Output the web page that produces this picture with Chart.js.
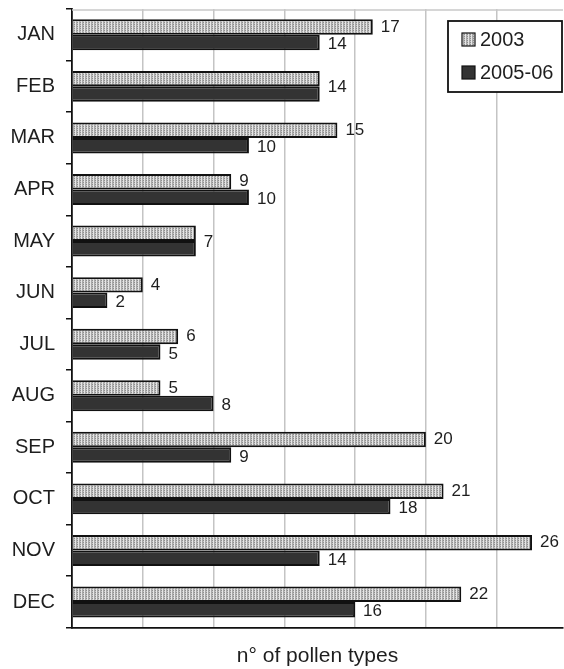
<!DOCTYPE html>
<html>
<head>
<meta charset="utf-8">
<script src="https://cdn.jsdelivr.net/npm/chart.js@4"></script>
<style>
  html, body { margin: 0; padding: 0; background: #fff; }
  #wrap { width: 564px; height: 669px; }
</style>
</head>
<body>
<div id="wrap"><canvas id="chart" width="564" height="669"></canvas></div>
<script>
var months = ["JAN", "FEB", "MAR", "APR", "MAY", "JUN", "JUL", "AUG", "SEP", "OCT", "NOV", "DEC"];
var seriesNames = ["2003", "2005-06"];
var values2003 = [17, 14, 15, 9, 7, 4, 6, 5, 20, 21, 26, 22];
var values2005 = [14, 14, 10, 10, 7, 2, 5, 8, 9, 18, 14, 16];
var axisTitle = "n\u00b0 of pollen types";

var FONT = "'Liberation Sans', Arial, sans-serif";

// dotted light fill for the 2003 bars
function dottedFill() {
    var c = document.createElement("canvas");
    c.width = 3; c.height = 2;
    var g = c.getContext("2d");
    g.fillStyle = "#e6e6e6"; g.fillRect(0, 0, 3, 2);
    g.fillStyle = "#a8a8a8"; g.fillRect(1, 0, 1, 2);
    g.fillStyle = "#8e8e8e"; g.fillRect(2, 0, 1, 1);
    g.fillStyle = "#c6c6c6"; g.fillRect(2, 1, 1, 1);
    return document.getElementById("chart").getContext("2d").createPattern(c, "repeat");
}

var fill2003 = dottedFill();
var fill2005 = "#333333";

// value labels at bar ends; one shared label when both bars are equal
var barLabels = {
    id: "barLabels",
    afterDatasetsDraw: function(chart) {
        var ctx = chart.ctx;
        var m0 = chart.getDatasetMeta(0), m1 = chart.getDatasetMeta(1);
        var d0 = chart.data.datasets[0].data, d1 = chart.data.datasets[1].data;
        ctx.save();
        ctx.font = "17px " + FONT;
        ctx.fillStyle = "#1e1e1e";
        ctx.textBaseline = "middle";
        ctx.textAlign = "left";
        for (var i = 0; i < d0.length; i++) {
            var b0 = m0.data[i], b1 = m1.data[i];
            if (d0[i] === d1[i]) {
                ctx.fillText(String(d0[i]), b0.x + 8, (b0.y + b1.y) / 2 + 1);
            } else {
                ctx.fillText(String(d0[i]), b0.x + 8, b0.y);
                ctx.fillText(String(d1[i]), b1.x + 8, b1.y + 2);
            }
        }
        ctx.restore();
    }
};

// faint top edge of the plot
var topEdge = {
    id: "topEdge",
    beforeDatasetsDraw: function(chart) {
        var a = chart.chartArea, ctx = chart.ctx;
        ctx.save();
        ctx.strokeStyle = "#c8c8c8";
        ctx.lineWidth = 1.5;
        ctx.beginPath();
        ctx.moveTo(a.left, a.top + 1);
        ctx.lineTo(a.right, a.top + 1);
        ctx.stroke();
        ctx.restore();
    }
};

// boxed legend in the upper right corner
var boxLegend = {
    id: "boxLegend",
    afterDraw: function(chart) {
        var a = chart.chartArea, ctx = chart.ctx;
        var x = a.right - 115, y = a.top + 12, w = 114, h = 71;
        ctx.save();
        ctx.fillStyle = "#fff";
        ctx.fillRect(x, y, w, h);
        ctx.strokeStyle = "#111";
        ctx.lineWidth = 1.8;
        ctx.strokeRect(x, y, w, h);
        ctx.font = "20px " + FONT;
        ctx.textBaseline = "middle";
        ctx.textAlign = "left";
        chart.data.datasets.forEach(function(ds, k) {
            var sy = y + 12 + k * 33;
            ctx.fillStyle = ds.backgroundColor;
            ctx.fillRect(x + 14, sy, 13, 13);
            ctx.strokeStyle = "#111";
            ctx.lineWidth = 1.2;
            ctx.strokeRect(x + 14, sy, 13, 13);
            ctx.fillStyle = "#1e1e1e";
            ctx.fillText(ds.label, x + 32, sy + 7);
        });
        ctx.restore();
    }
};

new Chart(document.getElementById("chart").getContext("2d"), {
    type: "bar",
    data: {
        labels: months,
        datasets: [
            { label: seriesNames[0], data: values2003, backgroundColor: fill2003,
              borderColor: "#111", borderWidth: 2 },
            { label: seriesNames[1], data: values2005, backgroundColor: fill2005,
              borderColor: "#111", borderWidth: 2 }
        ]
    },
    options: {
        indexAxis: "y",
        responsive: false,
        animation: false,
        events: [],
        layout: { padding: { top: 9, right: 1, bottom: 0, left: 0 } },
        datasets: { bar: { categoryPercentage: 0.6, barPercentage: 1.0 } },
        plugins: { legend: { display: false }, tooltip: { enabled: false } },
        scales: {
            x: {
                min: 0,
                max: 27.75,
                ticks: { display: false, stepSize: 4 },
                grid: {
                    drawTicks: false,
                    lineWidth: 1.5,
                    color: function(c) {
                        var v = c.tick ? c.tick.value : 0;
                        return (v > 0 && v % 4 === 0) ? "#c4c4c4" : "rgba(0,0,0,0)";
                    }
                },
                border: { display: true, color: "#111", width: 1.8 },
                title: {
                    display: true,
                    text: axisTitle,
                    color: "#1e1e1e",
                    font: { family: FONT, size: 21 },
                    padding: { top: 16, bottom: 0 }
                }
            },
            y: {
                afterFit: function(scale) {
                    scale.width = 72;
                    scale.paddingTop = 0;
                    scale.paddingBottom = 0;
                },
                ticks: { color: "#1e1e1e", font: { family: FONT, size: 20 }, padding: 11 },
                grid: { drawOnChartArea: false, offset: true, tickLength: 6, color: "#111", lineWidth: 1.5 },
                border: { display: true, color: "#111", width: 1.8 }
            }
        }
    },
    plugins: [topEdge, barLabels, boxLegend]
});
</script>
</body>
</html>
